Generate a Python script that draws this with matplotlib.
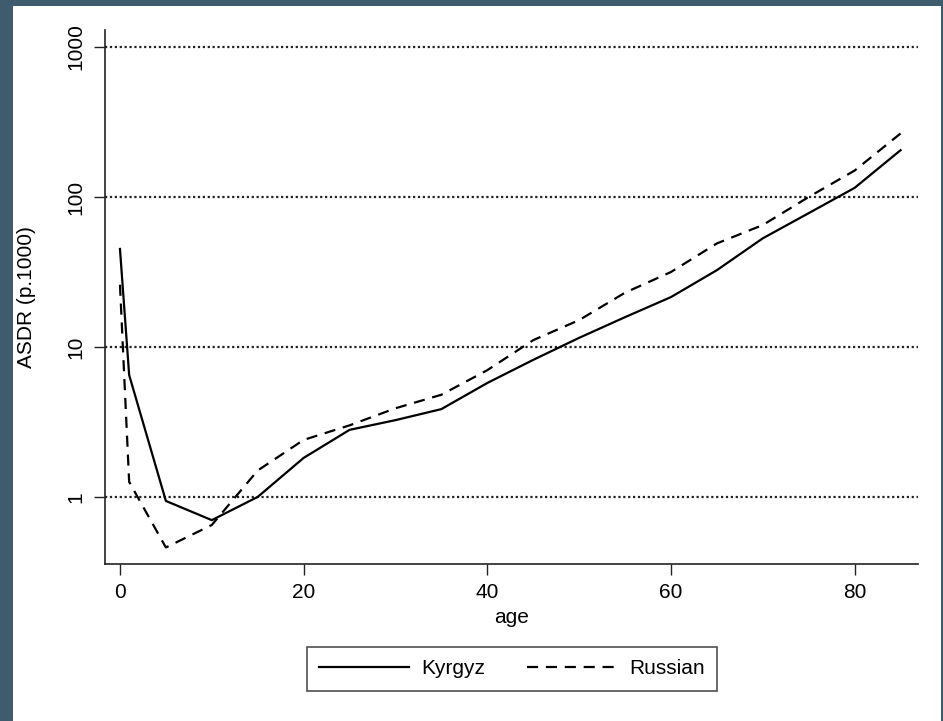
#!/usr/bin/env python3
"""ASDR by age, Kyrgyz vs Russian (log scale)."""

import matplotlib
matplotlib.use("Agg")
import matplotlib.pyplot as plt
from matplotlib.patches import Rectangle

ages = [0, 1, 5, 10, 15, 20, 25, 30, 35, 40, 45, 50, 55, 60, 65, 70, 75, 80, 85]
kyrgyz = [45, 6.5, 0.94, 0.70, 1.0, 1.82, 2.8, 3.25, 3.85, 5.75, 8.2, 11.5, 15.8,
          21.5, 32.5, 53, 78, 115, 205]
russian = [26, 1.26, 0.46, 0.65, 1.5, 2.4, 3.0, 3.9, 4.8, 7.0, 11.1, 15.1, 23,
           31.6, 49, 65, 100, 150, 265]
x_ticks = [0, 20, 40, 60, 80]
y_ticks = [1, 10, 100, 1000]
y_labels = ["1", "10", "100", "1000"]

plt.rcParams["font.family"] = ["Liberation Sans Narrow", "Liberation Sans", "DejaVu Sans"]

W, H = 943, 721
fig = plt.figure(figsize=(W / 100, H / 100), dpi=100, facecolor="#3e5c6e")
fig.patches.append(Rectangle((13 / W, 0), (941 - 13) / W, (H - 6) / H,
                             transform=fig.transFigure, facecolor="white",
                             edgecolor="none", zorder=-5))

left, right, top, bottom = 105, 918, 30, 564
ax = fig.add_axes([left / W, 1 - bottom / H, (right - left) / W, (bottom - top) / H])
ax.set_zorder(1)
ax.patch.set_alpha(0)
ax.set_yscale("log")
ax.set_xlim(-1.63, 86.9)
ax.set_ylim(0.357, 1298)

for yv in y_ticks:
    ax.axhline(yv, color="#222222", lw=1.6, ls=(0, (1, 1.2)), zorder=1)

ax.plot(ages, kyrgyz, color="black", lw=1.6, label="Kyrgyz", zorder=3)
ax.plot(ages, russian, color="black", lw=1.6, ls=(0, (5, 3.5)), label="Russian", zorder=3)

ax.set_xticks(x_ticks)
ax.set_yticks(y_ticks)
ax.set_yticklabels(y_labels, rotation=90, va="center")
ax.minorticks_off()
ax.tick_params(axis="both", direction="out", length=8, width=1.0, color="#222222",
               labelsize=15, pad=6)
for s in ("top", "right"):
    ax.spines[s].set_visible(False)
for s in ("left", "bottom"):
    ax.spines[s].set_linewidth(1.2)
    ax.spines[s].set_color("#222222")

ax.set_xlabel("age", fontsize=15, labelpad=4)
ax.set_ylabel("ASDR (p.1000)", fontsize=15, labelpad=22)

leg = fig.legend(loc="center", bbox_to_anchor=(512 / W, 1 - 669 / H), ncol=2,
                 fontsize=15, frameon=True, fancybox=False, edgecolor="#222222",
                 handlelength=4.3, handletextpad=0.6, columnspacing=2.0, borderpad=0.6)
leg.get_frame().set_linewidth(1.2)

fig.savefig("out.png", dpi=100, facecolor=fig.get_facecolor())
